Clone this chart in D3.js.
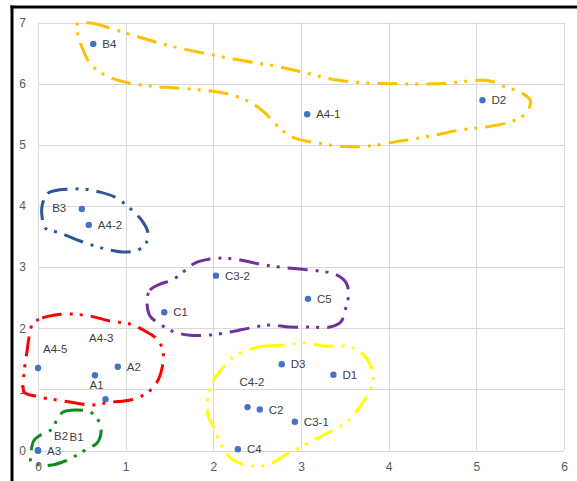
<!DOCTYPE html>
<html>
<head>
<meta charset="utf-8">
<script src="https://cdn.jsdelivr.net/npm/d3@7"></script>
<style>
  html, body { margin: 0; padding: 0; background: #fff; }
  svg { display: block; }
</style>
</head>
<body>
<svg id="chart" width="577" height="481"></svg>
<script>
// ---------- data ----------
const pointNames = ["B4","D2","A4-1","B3","A4-2","C3-2","C5","C1","A4-5","A4-3","A2","A1","A3","B2","B1","D3","D1","C4-2","C2","C3-1","C4"];
const pointX     = [0.63, 5.07, 3.07, 0.50, 0.58, 2.03, 3.08, 1.44, 0.00, 0.77, 0.91, 0.65, 0.00, 0.00, 0.00, 2.78, 3.37, 2.39, 2.53, 2.93, 2.28];
const pointY     = [6.65, 5.73, 5.50, 3.95, 3.69, 2.86, 2.48, 2.26, 1.35, 0.84, 1.37, 1.23, 0.00, 0.00, 0.00, 1.41, 1.24, 0.71, 0.67, 0.47, 0.02];

const xTicks = [0, 1, 2, 3, 4, 5, 6];
const yTicks = [0, 1, 2, 3, 4, 5, 6, 7];

// hand-drawn group outlines (data units)
const outlineOrangeX = [0.446,0.595,0.993,1.392,1.847,2.360,2.702,2.986,3.442,4.011,4.581,5.128,5.344,5.515,5.618,5.572,5.435,5.150,4.809,4.467,4.125,3.781,3.499,3.191,2.929,2.758,2.588,2.417,2.166,1.904,1.563,1.278,1.016,0.822,0.708,0.595,0.515,0.458];
const outlineOrangeY = [6.97,6.99,6.83,6.66,6.51,6.37,6.29,6.20,6.05,6.00,6.00,6.05,5.94,5.85,5.72,5.53,5.40,5.30,5.24,5.14,5.06,4.98,4.97,5.03,5.11,5.27,5.52,5.70,5.83,5.89,5.93,5.96,6.02,6.10,6.19,6.33,6.55,6.78];

const outlineBlueX = [0.048,0.116,0.230,0.367,0.538,0.708,0.879,0.993,1.107,1.198,1.255,1.232,1.141,0.993,0.822,0.617,0.424,0.253,0.082,0.048];
const outlineBlueY = [4.013,4.210,4.259,4.275,4.275,4.226,4.144,4.030,3.883,3.736,3.556,3.392,3.278,3.245,3.278,3.359,3.458,3.556,3.638,3.801];

const outlinePurpleX = [1.244,1.278,1.392,1.528,1.654,1.790,1.961,2.132,2.303,2.531,2.758,2.986,3.214,3.385,3.510,3.544,3.510,3.453,3.328,3.100,2.872,2.645,2.417,2.189,1.961,1.710,1.528,1.392,1.278];
const outlinePurpleY = [2.460,2.624,2.722,2.787,2.918,3.065,3.131,3.147,3.115,3.049,3.000,2.967,2.934,2.885,2.755,2.575,2.330,2.101,2.019,2.019,2.019,2.052,2.003,1.937,1.888,1.888,1.954,2.068,2.199];

const outlineRedX = [-0.055,0.048,0.196,0.367,0.595,0.822,1.050,1.221,1.369,1.426,1.415,1.358,1.244,1.050,0.845,0.595,0.367,0.139,-0.032,-0.157,-0.157,-0.123,-0.100];
const outlineRedY = [2.084,2.166,2.215,2.232,2.199,2.117,2.068,1.954,1.806,1.610,1.349,1.120,0.940,0.826,0.793,0.744,0.793,0.842,0.891,0.956,1.283,1.643,1.872];

const outlineYellowX = [2.417,2.588,2.816,3.044,3.271,3.499,3.647,3.761,3.818,3.818,3.772,3.670,3.533,3.385,3.214,3.021,2.838,2.645,2.417,2.212,2.098,2.007,1.938,1.938,1.995,2.098,2.212,2.303];
const outlineYellowY = [1.659,1.708,1.725,1.757,1.708,1.708,1.643,1.479,1.283,1.120,0.940,0.711,0.482,0.351,0.221,0.074,-0.057,-0.221,-0.253,-0.139,0.074,0.368,0.580,0.858,1.136,1.332,1.512,1.594];

const outlineGreenX = [0.219,0.287,0.424,0.595,0.686,0.720,0.674,0.560,0.424,0.310,0.162,0.025,-0.077,-0.077,-0.043,0.048,0.162];
const outlineGreenY = [0.515,0.629,0.662,0.629,0.499,0.319,0.123,0.025,-0.090,-0.172,-0.237,-0.237,-0.188,0.008,0.172,0.270,0.351];

// ---------- layout / style ----------
const W = 577, H = 481;
const plot = { left: 38, right: 564, top: 22.5, bottom: 450.5 };
// label placement relative to each point (pixels); default is to the right
const labelOffsets = {
  "B3":   [-29.7, -1.3],
  "A4-5": [5, -19.4],
  "A4-3": [-16.4, -61],
  "A1":   [-5.4, 9.7],
  "B2":   [16, -14.7],
  "B1":   [31.5, -13.4],
  "C4-2": [-8, -24.7]
};
const outlines = [
  { xs: outlineOrangeX, ys: outlineOrangeY, color: "#FFC000" },
  { xs: outlineBlueX,   ys: outlineBlueY,   color: "#2F5597" },
  { xs: outlinePurpleX, ys: outlinePurpleY, color: "#7030A0" },
  { xs: outlineRedX,    ys: outlineRedY,    color: "#FF0000" },
  { xs: outlineYellowX, ys: outlineYellowY, color: "#FFFF00" },
  { xs: outlineGreenX,  ys: outlineGreenY,  color: "#118A1C" }
];

const svg = d3.select("#chart");
const x = d3.scaleLinear().domain([0, 6]).range([plot.left, plot.right]);
const y = d3.scaleLinear().domain([0, 7]).range([plot.bottom, plot.top]);

// frame (black border on left and top)
svg.append("line").attr("x1", 12).attr("x2", 12).attr("y1", 5.5).attr("y2", H)
  .attr("stroke", "#000").attr("stroke-width", 3);
svg.append("line").attr("x1", 10.5).attr("x2", W).attr("y1", 7).attr("y2", 7)
  .attr("stroke", "#000").attr("stroke-width", 3);

// gridlines
const grid = svg.append("g");
grid.selectAll("line.v").data(xTicks).enter().append("line")
  .attr("x1", d => Math.round(x(d)) + 0.5).attr("x2", d => Math.round(x(d)) + 0.5)
  .attr("y1", y(0)).attr("y2", y(7))
  .attr("stroke", "#D9D9D9").attr("stroke-width", 1);
grid.selectAll("line.h").data(yTicks).enter().append("line")
  .attr("x1", x(0)).attr("x2", x(6))
  .attr("y1", d => Math.round(y(d)) + 0.5).attr("y2", d => Math.round(y(d)) + 0.5)
  .attr("stroke", "#D9D9D9").attr("stroke-width", 1);

// axes tick labels
const tickFont = "'Liberation Sans', Arial, sans-serif";
const xAxis = svg.append("g").attr("transform", `translate(0,${plot.bottom})`)
  .call(d3.axisBottom(x).tickValues(xTicks).tickSize(0).tickPadding(12).tickFormat(d3.format("d")));
const yAxis = svg.append("g").attr("transform", `translate(${plot.left},0)`)
  .call(d3.axisLeft(y).tickValues(yTicks).tickSize(0).tickPadding(12).tickFormat(d3.format("d")));
[xAxis, yAxis].forEach(a => {
  a.select(".domain").remove();
  a.selectAll("text").attr("fill", "#595959").style("font-family", tickFont).style("font-size", "12px");
});

// outlines
const lineGen = d3.line().x(d => x(d[0])).y(d => y(d[1])).curve(d3.curveCatmullRomClosed.alpha(0.5));
svg.append("g").selectAll("path").data(outlines).enter().append("path")
  .attr("d", o => lineGen(o.xs.map((v, i) => [v, o.ys[i]])))
  .attr("fill", "none")
  .attr("stroke", o => o.color)
  .attr("stroke-width", 3)
  .attr("stroke-dasharray", "20,8,3,7,3,8")
  .attr("stroke-linejoin", "round");

// points
const pts = pointNames.map((n, i) => ({ name: n, x: pointX[i], y: pointY[i] }));
svg.append("g").selectAll("circle").data(pts).enter().append("circle")
  .attr("cx", d => x(d.x)).attr("cy", d => y(d.y)).attr("r", 3.2)
  .attr("fill", "#4472C4");

// labels
svg.append("g").selectAll("text").data(pts).enter().append("text")
  .attr("x", d => x(d.x) + (labelOffsets[d.name] ? labelOffsets[d.name][0] : 9))
  .attr("y", d => y(d.y) + (labelOffsets[d.name] ? labelOffsets[d.name][1] : 0))
  .attr("dy", "0.35em")
  .attr("fill", "#404040")
  .style("font-family", tickFont)
  .style("font-size", "11.5px")
  .text(d => d.name);
</script>
</body>
</html>
